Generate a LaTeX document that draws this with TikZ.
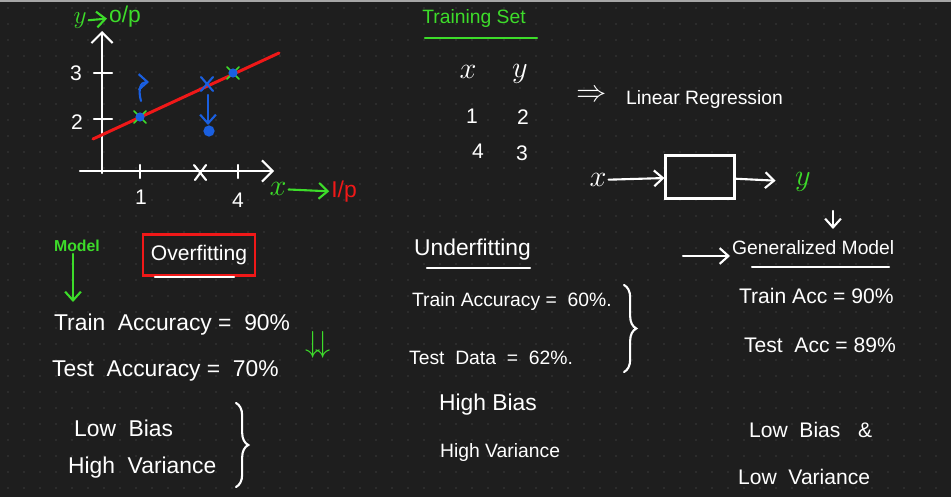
\documentclass[tikz,border=0pt]{standalone}
\usepackage{fontspec}
\setmainfont{Liberation Sans}
\usetikzlibrary{arrows.meta, positioning, decorations.pathreplacing}
\definecolor{board}{HTML}{1E1E1E}
\definecolor{dotgray}{HTML}{3C3C3C}
\definecolor{inkgreen}{HTML}{3DDC2A}
\definecolor{inkred}{HTML}{F01818}
\definecolor{inkblue}{HTML}{1A5FE0}
\tikzstyle{hand}      = [text=white, inner sep=1pt, font=\fontsize{12}{14}\selectfont]
\tikzstyle{handbig}   = [hand, font=\fontsize{13}{15}\selectfont]
\tikzstyle{handsmall} = [hand, font=\fontsize{11}{13}\selectfont]
\tikzstyle{letter}    = [hand, font=\fontsize{17}{19}\selectfont]
\tikzstyle{edge}      = [line width=1.2pt, white, line cap=round]
\tikzstyle{arrow}     = [edge, -{Straight Barb[length=5pt,width=9pt]}]
\tikzstyle{axisarrow} = [edge, -{Straight Barb[length=6pt,width=12pt]}]
\tikzstyle{greenedge} = [edge, inkgreen]
\tikzstyle{greenarrow}= [arrow, inkgreen]
\tikzstyle{bluearrow} = [arrow, inkblue]
\tikzstyle{fitline}   = [line width=1.7pt, inkred, line cap=round]

\begin{document}
\begin{tikzpicture}[x=0.02cm, y=-0.02cm]

\fill[board] (0,0) rectangle (951,497);
\useasboundingbox (0,0) rectangle (951,497);
\fill[gray!70] (0,0) rectangle (951,2);
\foreach \i in {0,...,58} \foreach \j in {0,...,30} \fill[dotgray] (8+16*\i,8+16*\j) circle (0.5pt);

\coordinate (xstart) at (80,171);
\coordinate (xend)   at (274,171);
\coordinate (ystart) at (102,173);
\coordinate (yend)   at (102,31);
\draw[axisarrow] (xstart) -- (xend);
\draw[axisarrow] (ystart) -- (yend);
\foreach \yy in {73,119} \draw[edge] (94,\yy) -- (112,\yy);
\foreach \xx in {140,238} \draw[edge] (\xx,165) -- (\xx,178);
\draw[edge] (194,165) -- (206,180);
\draw[edge] (206,165) -- (195,180);

\node[hand] (ythree) at (76,73)  {3};
\node[hand] (ytwo)   at (77,122) {2};
\node[hand] (xone)   at (141,197) {1};
\node[hand] (xfour)  at (238,200) {4};

\coordinate (fitA) at (93,139);
\coordinate (fitB) at (279,53);
\draw[fitline] (fitA) -- (fitB);

\foreach \px/\py in {140/117, 233/73} {
  \draw[greenedge, line width=0.9pt] ({\px-6},{\py-6}) -- ({\px+6},{\py+6});
  \draw[greenedge, line width=0.9pt] ({\px+6},{\py-6}) -- ({\px-6},{\py+6});
  \fill[inkblue] (\px,\py) circle (2.6pt);
}
\draw[edge, inkblue] (201,77) -- (213,91);
\draw[edge, inkblue] (213,77) -- (201,91);
\coordinate (errtop) at (208,95);
\coordinate (errbot) at (208,125);
\draw[bluearrow] (errtop) -- (errbot);
\fill[inkblue] (209,131) circle (3.2pt);
\draw[bluearrow] (141,101) .. controls (138,90) and (140,82) .. (149,82);

\node[letter, text=inkgreen, font=\fontsize{15}{17}\selectfont] (ylab) at (80,21) {$y$};
\node[handbig, text=inkgreen] (yout) at (125,17) {o/p};
\draw[greenarrow] (ylab) -- (yout);
\node[letter, text=inkgreen] (xlab) at (278,189) {$x$};
\node[handbig, text=inkred] (xin) at (344,192) {I/p};
\draw[greenarrow] (xlab) -- (xin);

\node[handsmall, text=inkgreen] (trainset) at (474,19) {Training Set};
\coordinate (tsA) at (425,38);
\coordinate (tsB) at (537,38);
\draw[greenedge] (tsA) -- (tsB);

\node[letter] (colx) at (468,72)  {$x$};
\node[letter] (coly) at (520,74)  {$y$};
\node[hand]   (xa)   at (472,116) {1};
\node[hand]   (ya)   at (523,117) {2};
\node[hand]   (xb)   at (478,151) {4};
\node[hand]   (yb)   at (522,153) {3};

\node[letter] (implies) at (592,96) {$\Rightarrow$};
\node[handsmall, anchor=west] (linreg) at (624,100) {Linear Regression};

\node[letter] (boxin) at (598,180) {$x$};
\node[draw=white, line width=1.2pt, minimum width=1.38cm, minimum height=0.86cm] (model) at (700,177) {};
\node[letter, text=inkgreen] (boxout) at (803,182) {$y$};
\draw[arrow] (boxin) -- (model);
\draw[arrow, shorten >=0.35cm] (model) -- (boxout);

\coordinate (dtop) at (833,211);
\coordinate (dbot) at (833,229);
\draw[arrow] (dtop) -- (dbot);
\node[handsmall, anchor=west] (genmodel) at (730,248) {Generalized Model};
\coordinate (genin) at (683,256);
\draw[arrow] (genin) -- (genin -| genmodel.west);
\draw[edge] (752,267) -- (889,267);

\node[hand, text=inkgreen, font=\fontsize{9}{11}\selectfont\bfseries] (mdl) at (77,246) {Model};
\coordinate (mdlend) at (73,302);
\draw[greenarrow] (mdl.south -| mdlend) -- (mdlend);

\node[hand, draw=inkred, line width=1.4pt, minimum width=2.24cm, minimum height=0.82cm] (overfit) at (199,255) {Overfitting};
\draw[edge] (155,277) -- (234,277);
\node[handbig, anchor=west] (oftrain) at (52,325) {Train\ \ Accuracy\ =\ \ 90\%};
\node[handbig, anchor=west] (oftest)  at (50,371) {Test\ \ Accuracy\ =\ \ 70\%};
\node[letter, text=inkgreen] (ofdown) at (318,345) {$\downarrow\!\downarrow$};
\node[handbig, anchor=west] (oflow)   at (72,428) {Low\ \ Bias};
\node[handbig, anchor=west] (ofhigh)  at (66,468) {High\ \ Variance};
\draw[edge, decorate, decoration={brace, amplitude=7pt}] (236,403) -- (236,487);

\node[handbig, anchor=west] (underfit) at (412,250) {Underfitting};
\draw[edge] (427,268) -- (530,268);
\node[handsmall, anchor=west] (uftrain) at (410,302) {Train Accuracy = \ 60\%.};
\node[handsmall, anchor=west] (uftest)  at (407,358) {Test\ \ Data\ \ =\ \ 62\%.};
\draw[edge, decorate, decoration={brace, amplitude=7pt}] (624,285) -- (624,372);
\node[handbig, anchor=west]   (ufbias) at (437,405) {High Bias};
\node[handsmall, anchor=west] (ufvar)  at (438,452) {High Variance};

\node[hand, anchor=west] (gentrain) at (737,296) {Train Acc = 90\%};
\node[hand, anchor=west] (gentest)  at (742,345) {Test\ \ Acc = 89\%};
\node[hand, anchor=west] (genbias)  at (747,430) {Low\ \ Bias\ \ \ \&};
\node[hand, anchor=west] (genvar)   at (736,477) {Low\ \ Variance};

\end{tikzpicture}
\end{document}
